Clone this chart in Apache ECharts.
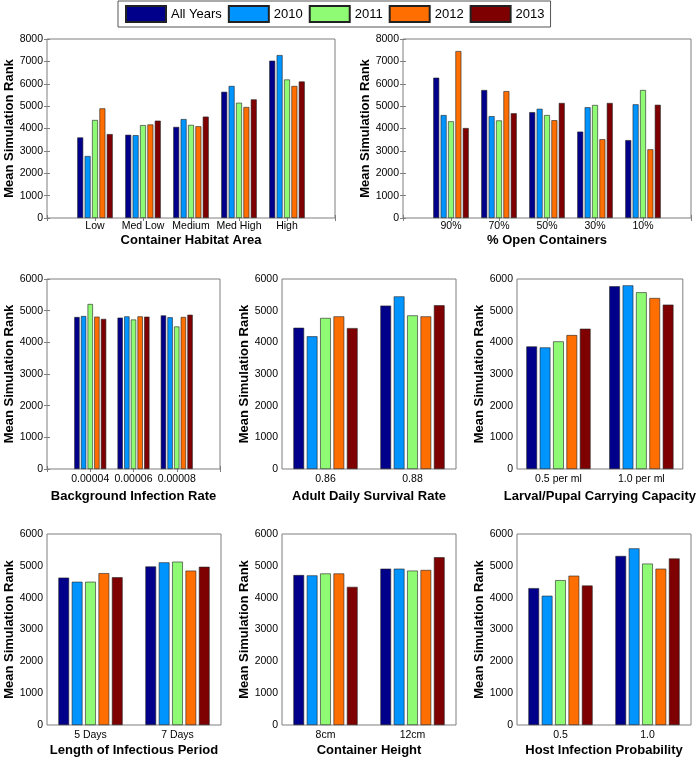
<!DOCTYPE html>
<html>
<head>
<meta charset="utf-8">
<script src="https://cdn.jsdelivr.net/npm/echarts@6/dist/echarts.min.js"></script>
<style>
  html, body { margin: 0; padding: 0; background: #fff; }
  #main { width: 698px; height: 759px; }
</style>
</head>
<body>
<div id="main"></div>
<script>
// series (legend) names and colours
var seriesNames = ['All Years', '2010', '2011', '2012', '2013'];
var colorList = ['#00008B', '#0094FF', '#8FFB74', '#FF6E00', '#7F0000'];

// each row = one category, columns = All Years, 2010, 2011, 2012, 2013
var habitatCats = ['Low', 'Med Low', 'Medium', 'Med High', 'High'];
var habitatVals = [
  [3600, 2770, 4380, 4900, 3750],
  [3720, 3700, 4150, 4180, 4350],
  [4070, 4420, 4160, 4100, 4530],
  [5640, 5900, 5150, 4960, 5300],
  [7030, 7280, 6190, 5900, 6100]
];

var openCats = ['90%', '70%', '50%', '30%', '10%'];
var openVals = [
  [6270, 4600, 4320, 7460, 4020],
  [5720, 4550, 4360, 5670, 4680],
  [4730, 4880, 4600, 4370, 5140],
  [3860, 4950, 5050, 3520, 5140],
  [3480, 5080, 5720, 3070, 5060]
];

var bgCats = ['0.00004', '0.00006', '0.00008'];
var bgVals = [
  [4800, 4830, 5210, 4810, 4740],
  [4780, 4820, 4720, 4820, 4810],
  [4850, 4790, 4500, 4800, 4870]
];

var survCats = ['0.86', '0.88'];
var survVals = [
  [4460, 4190, 4770, 4820, 4450],
  [5160, 5450, 4850, 4820, 5170]
];

var larvalCats = ['0.5 per ml', '1.0 per ml'];
var larvalVals = [
  [3870, 3840, 4030, 4230, 4430],
  [5770, 5800, 5580, 5400, 5190]
];

var infCats = ['5 Days', '7 Days'];
var infVals = [
  [4630, 4500, 4500, 4770, 4640],
  [4980, 5110, 5130, 4850, 4970]
];

var heightCats = ['8cm', '12cm'];
var heightVals = [
  [4710, 4700, 4760, 4760, 4340],
  [4910, 4910, 4850, 4870, 5270]
];

var hostCats = ['0.5', '1.0'];
var hostVals = [
  [4300, 4060, 4550, 4690, 4380],
  [5310, 5550, 5070, 4910, 5230]
];

var fontFam = '"Liberation Sans", Arial, Helvetica, sans-serif';
var boxColor = '#7f7f7f';

// panels: data + where they sit on the page
var panels = [
  {cats: habitatCats, vals: habitatVals, title: 'Container Habitat Area', yMax: 8000,
   left: 47, top: 39, width: 288, height: 179, labelMargin: 3, nameGap: 16},
  {cats: openCats, vals: openVals, title: '% Open Containers', yMax: 8000,
   left: 403, top: 39, width: 288, height: 179, labelMargin: 3, nameGap: 16},
  {cats: bgCats, vals: bgVals, title: 'Background Infection Rate', yMax: 6000,
   left: 47, top: 279, width: 173, height: 190, labelMargin: 5, nameGap: 21},
  {cats: survCats, vals: survVals, title: 'Adult Daily Survival Rate', yMax: 6000,
   left: 282, top: 279, width: 174, height: 190, labelMargin: 5, nameGap: 21},
  {cats: larvalCats, vals: larvalVals, title: 'Larval/Pupal Carrying Capacity', yMax: 6000,
   left: 517, top: 279, width: 174, height: 190, labelMargin: 5, nameGap: 21},
  {cats: infCats, vals: infVals, title: 'Length of Infectious Period', yMax: 6000,
   left: 47, top: 534, width: 174, height: 191, labelMargin: 5, nameGap: 19},
  {cats: heightCats, vals: heightVals, title: 'Container Height', yMax: 6000,
   left: 282, top: 534, width: 174, height: 191, labelMargin: 5, nameGap: 19},
  {cats: hostCats, vals: hostVals, title: 'Host Infection Probability', yMax: 6000,
   left: 517, top: 534, width: 174, height: 191, labelMargin: 5, nameGap: 19}
];

var option = {
  animation: false,
  backgroundColor: '#fff',
  textStyle: {fontFamily: fontFam},
  legend: {
    data: seriesNames,
    left: 118, top: 1,
    itemWidth: 40, itemHeight: 16, itemGap: 6,
    padding: [4, 6, 4, 7],
    borderColor: '#555', borderWidth: 1,
    icon: 'rect',
    textStyle: {fontSize: 13, color: '#000', fontFamily: fontFam}
  },
  grid: [], xAxis: [], yAxis: [], series: []
};

panels.forEach(function (p, i) {
  var n = p.cats.length;
  var useValue = n > 2;   // matlab-style xlim [0, n+1] for 3 and 5 groups
  var unit = useValue ? p.width / (n + 1) : p.width / n;
  var bw = 0.123 * unit;

  option.grid.push({
    left: p.left, top: p.top, width: p.width, height: p.height,
    show: true, borderColor: boxColor, borderWidth: 1, backgroundColor: 'transparent'
  });

  var tick = {inside: true, length: 3, lineStyle: {color: boxColor}};
  var xMain, xTop;
  if (useValue) {
    xMain = {type: 'value', min: 0, max: n + 1, interval: 1,
      axisLabel: {formatter: function (v) { return p.cats[v - 1] || ''; }}};
    xTop = {type: 'value', min: 0, max: n + 1, interval: 1};
  } else {
    xMain = {type: 'category', data: p.cats, boundaryGap: true, axisLabel: {interval: 0}};
    xTop = {type: 'category', data: p.cats, boundaryGap: true};
    tick.alignWithLabel = true;
  }
  xMain.gridIndex = i;
  xMain.position = 'bottom';
  xMain.axisLine = {show: false};
  xMain.axisTick = tick;
  xMain.splitLine = {show: false};
  xMain.axisLabel.margin = p.labelMargin;
  xMain.axisLabel.fontSize = 10.5;
  xMain.axisLabel.color = '#000';
  xMain.name = p.title;
  xMain.nameLocation = 'middle';
  xMain.nameGap = p.nameGap;
  xMain.nameTextStyle = {fontWeight: 'bold', fontSize: 13, color: '#000', fontFamily: fontFam};

  xTop.gridIndex = i;
  xTop.position = 'top';
  xTop.axisLine = {show: false};
  xTop.axisTick = tick;
  xTop.axisLabel = {show: false};
  xTop.splitLine = {show: false};

  option.xAxis.push(xMain, xTop);

  option.yAxis.push({
    type: 'value', gridIndex: i, position: 'left',
    min: 0, max: p.yMax, interval: 1000,
    axisLine: {show: false},
    axisTick: {inside: true, length: 3, lineStyle: {color: boxColor}},
    splitLine: {show: false},
    axisLabel: {fontSize: 10.5, color: '#000', margin: 4,
      formatter: function (v) { return String(v); }},
    name: 'Mean Simulation Rank', nameLocation: 'middle', nameGap: 28,
    nameTextStyle: {fontWeight: 'bold', fontSize: 13, color: '#000', fontFamily: fontFam}
  }, {
    type: 'value', gridIndex: i, position: 'right',
    min: 0, max: p.yMax, interval: 1000,
    axisLine: {show: false},
    axisTick: {inside: true, length: 3, lineStyle: {color: boxColor}},
    splitLine: {show: false},
    axisLabel: {show: false}
  });

  for (var s = 0; s < seriesNames.length; s++) {
    (function (s) {
      option.series.push({
        type: 'bar',
        name: seriesNames[s],
        xAxisIndex: 2 * i, yAxisIndex: 2 * i,
        data: p.vals.map(function (row, k) { return useValue ? [k + 1, row[s]] : row[s]; }),
        barWidth: bw,
        barGap: '25%',
        itemStyle: {color: colorList[s], borderColor: '#222', borderWidth: 0.6}
      });
    })(s);
  }
});

var myChart = echarts.init(document.getElementById('main'), null, {renderer: 'canvas'});
myChart.setOption(option);
</script>
</body>
</html>
